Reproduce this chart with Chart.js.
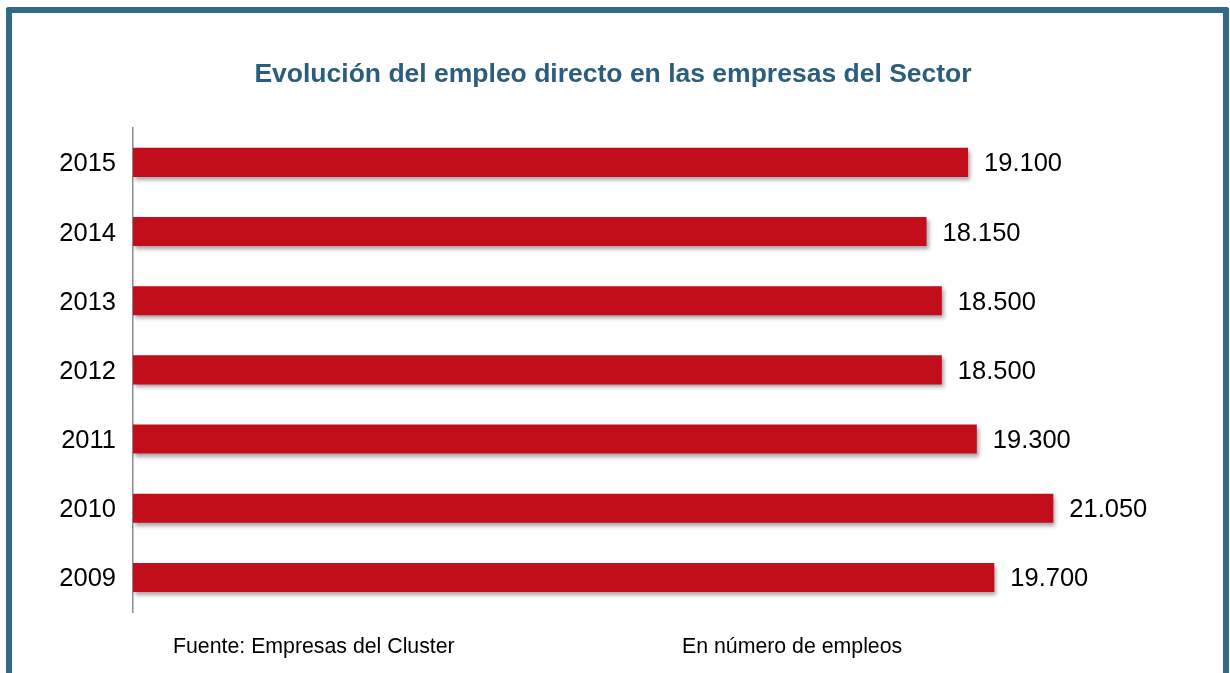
<!DOCTYPE html>
<html lang="es">
<head>
<meta charset="utf-8">
<title>Evolución del empleo directo</title>
<script src="https://cdn.jsdelivr.net/npm/chart.js@4/dist/chart.umd.min.js"></script>
<style>
    html, body { margin: 0; padding: 0; background: #ffffff; }
    #wrap { position: relative; width: 1230px; height: 673px; overflow: hidden; }
    #frame {
        position: absolute;
        left: 6px; top: 7px;
        width: 1211px; height: 700px;
        border: 6px solid #306a88;
        border-bottom: none;
        border-radius: 3px 3px 0 0;
        pointer-events: none;
    }
    canvas { position: absolute; left: 0; top: 0; }
</style>
</head>
<body>
<div id="wrap">
    <canvas id="empleoChart" width="1230" height="673"></canvas>
    <div id="frame"></div>
</div>
<script>
// Chart data
const years = ['2015', '2014', '2013', '2012', '2011', '2010', '2009'];
const empleos = [19100, 18150, 18500, 18500, 19300, 21050, 19700];

// Texts
const chartTitle = 'Evolución del empleo directo en las empresas del Sector';
const sourceNote = 'Fuente: Empresas del Cluster';
const unitNote = 'En número de empleos';

const FONT = '"Liberation Sans", Arial, sans-serif';

/**
 * Format a number with dot as thousands separator (19100 -> 19.100)
 */
function formatMiles(value) {
    return String(value).replace(/\B(?=(\d{3})+(?!\d))/g, '.');
}

// Drop shadow under the bars + value labels at the bar ends
const barDecorations = {
    id: 'barDecorations',
    beforeDatasetsDraw(chart) {
        const ctx = chart.ctx;
        ctx.save();
        ctx.shadowColor = 'rgba(0, 0, 0, 0.35)';
        ctx.shadowBlur = 4;
        ctx.shadowOffsetX = 2;
        ctx.shadowOffsetY = 3;
    },
    afterDatasetsDraw(chart) {
        const ctx = chart.ctx;
        ctx.restore();

        const meta = chart.getDatasetMeta(0);
        const values = chart.data.datasets[0].data;
        ctx.save();
        ctx.font = '25.5px ' + FONT;
        ctx.fillStyle = '#000000';
        ctx.textAlign = 'left';
        ctx.textBaseline = 'middle';
        meta.data.forEach((bar, i) => {
            ctx.fillText(formatMiles(values[i]), bar.x + 16, bar.y + 2);
        });
        ctx.restore();
    }
};

// Source and unit notes under the chart
const footerNotes = {
    id: 'footerNotes',
    afterDraw(chart) {
        const ctx = chart.ctx;
        ctx.save();
        ctx.font = '21.3px ' + FONT;
        ctx.fillStyle = '#000000';
        ctx.textAlign = 'left';
        ctx.textBaseline = 'alphabetic';
        ctx.fillText(sourceNote, 173, 653);
        ctx.fillText(unitNote, 682, 653);
        ctx.restore();
    }
};

const canvas = document.getElementById('empleoChart');

new Chart(canvas, {
    type: 'bar',
    data: {
        labels: years,
        datasets: [{
            label: 'Empleos',
            data: empleos,
            backgroundColor: '#c20d1b',
            borderWidth: 0,
            categoryPercentage: 1,
            barPercentage: 0.42
        }]
    },
    options: {
        indexAxis: 'y',
        responsive: false,
        animation: false,
        events: [],
        layout: {
            padding: { left: 0, right: 4, top: 0, bottom: 61 }
        },
        scales: {
            x: {
                display: false,
                min: 0,
                max: 25000
            },
            y: {
                afterFit(scale) {
                    scale.width = 133;
                },
                grid: {
                    color: 'transparent',
                    drawTicks: false
                },
                border: {
                    display: true,
                    color: '#8c8c8c',
                    width: 1.5
                },
                ticks: {
                    color: '#000000',
                    padding: 17,
                    labelOffset: 2,
                    font: { family: FONT, size: 25.5 }
                }
            }
        },
        plugins: {
            legend: { display: false },
            tooltip: { enabled: false },
            title: {
                display: true,
                text: chartTitle,
                color: '#2b5d7c',
                font: { family: FONT, size: 26.5, weight: 'bold' },
                padding: { top: 59, bottom: 37 }
            }
        }
    },
    plugins: [barDecorations, footerNotes]
});
</script>
</body>
</html>
